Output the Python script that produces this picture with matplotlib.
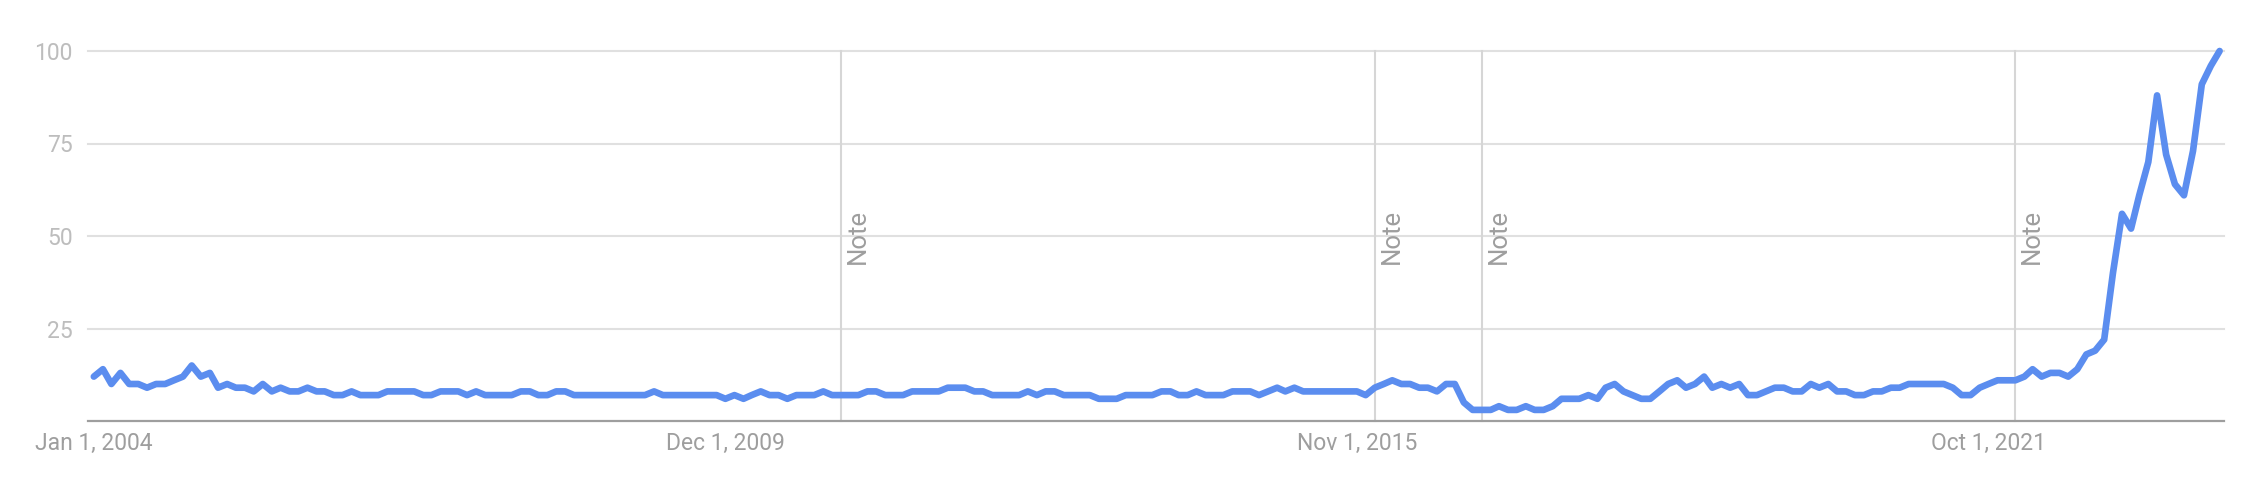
import numpy as np
import pandas as pd
import matplotlib
matplotlib.use('Agg')
import matplotlib.pyplot as plt
import matplotlib.dates as mdates

plt.rcParams['font.family'] = ['Roboto', 'DejaVu Sans']

# monthly interest, Jan 2004 .. Dec 2023
interest = [
    12, 14, 10, 13, 10, 10, 9, 10, 10, 11, 12, 15, 12, 13, 9, 10, 9, 9, 8, 10,
    8, 9, 8, 8, 9, 8, 8, 7, 7, 8, 7, 7, 7, 8, 8, 8, 8, 7, 7, 8,
    8, 8, 7, 8, 7, 7, 7, 7, 8, 8, 7, 7, 8, 8, 7, 7, 7, 7, 7, 7,
    7, 7, 7, 8, 7, 7, 7, 7, 7, 7, 7, 6, 7, 6, 7, 8, 7, 7, 6, 7,
    7, 7, 8, 7, 7, 7, 7, 8, 8, 7, 7, 7, 8, 8, 8, 8, 9, 9, 9, 8,
    8, 7, 7, 7, 7, 8, 7, 8, 8, 7, 7, 7, 7, 6, 6, 6, 7, 7, 7, 7,
    8, 8, 7, 7, 8, 7, 7, 7, 8, 8, 8, 7, 8, 9, 8, 9, 8, 8, 8, 8,
    8, 8, 8, 7, 9, 10, 11, 10, 10, 9, 9, 8, 10, 10, 5, 3, 3, 3, 4, 3,
    3, 4, 3, 3, 4, 6, 6, 6, 7, 6, 9, 10, 8, 7, 6, 6, 8, 10, 11, 9,
    10, 12, 9, 10, 9, 10, 7, 7, 8, 9, 9, 8, 8, 10, 9, 10, 8, 8, 7, 7,
    8, 8, 9, 9, 10, 10, 10, 10, 10, 9, 7, 7, 9, 10, 11, 11, 11, 12, 14, 12,
    13, 13, 12, 14, 18, 19, 22, 40, 56, 52, 61, 70, 88, 72, 64, 61, 73, 91, 96, 100,
]
months = pd.date_range('2004-01-01', periods=len(interest), freq='MS')

tick_dates = ['2004-01-01', '2009-12-01', '2015-11-01', '2021-10-01']
tick_labels = ['Jan 1, 2004', 'Dec 1, 2009', 'Nov 1, 2015', 'Oct 1, 2021']
note_dates = ['2011-01-01', '2016-01-01', '2017-01-01', '2022-01-01']
y_ticks = [25, 50, 75, 100]

fig = plt.figure(figsize=(22.56, 4.78), dpi=100)
ax = fig.add_axes([88 / 2256, 57 / 478, (2224 - 88) / 2256, 370 / 478])

x0 = months[0] - pd.Timedelta(days=20)
x1 = months[-1] + pd.Timedelta(days=15)
ax.set_xlim(x0, x1)
ax.set_ylim(0, 100)

# horizontal grid
for yv in y_ticks:
    ax.axhline(yv, color='#e0e0e0', lw=1.5, zorder=1, clip_on=False)

# annotation lines
for nd in note_dates:
    d = pd.Timestamp(nd)
    ax.axvline(d, color='#d6d6d6', lw=1.5, zorder=1, clip_on=False)
    ax.text(d + pd.Timedelta(days=16), 50, 'Note', rotation=90, ha='left', va='center',
            fontsize=18.5, color='#9e9e9e', zorder=2)

ax.plot(months, interest, color='#5b8def', lw=4.8, solid_joinstyle='round',
        solid_capstyle='round', zorder=3, clip_on=False)

ax.axhline(0, color='#9e9e9e', lw=1.6, zorder=4, clip_on=False)

for s in ax.spines.values():
    s.set_visible(False)

ax.set_xticks([pd.Timestamp(t) for t in tick_dates])
ax.set_xticklabels(tick_labels)
ax.set_yticks(y_ticks)
ax.set_yticklabels([str(v) for v in y_ticks])
ax.tick_params(axis='x', length=0, pad=8, labelsize=16.5, labelcolor='#9e9e9e')
ax.tick_params(axis='y', length=0, pad=11, labelsize=16.5, labelcolor='#bdbdbd')

fig.savefig('out.png', dpi=100, facecolor='white')
